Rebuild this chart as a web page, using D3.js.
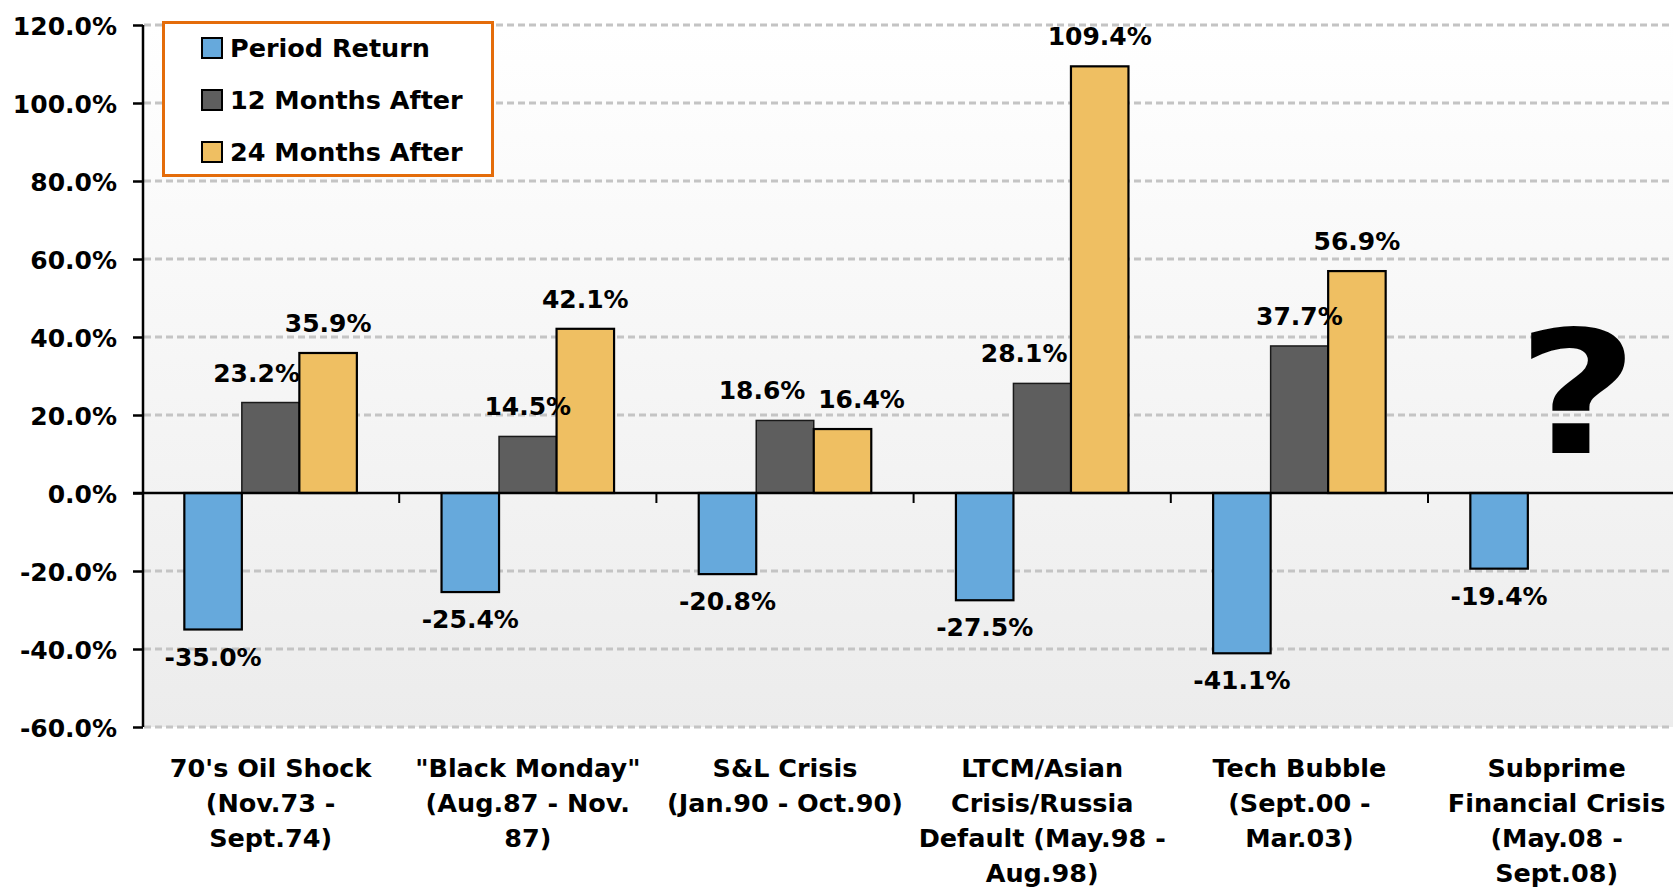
<!DOCTYPE html>
<html>
<head>
<meta charset="utf-8">
<script src="https://cdn.jsdelivr.net/npm/d3@7"></script>
<style>
  html, body { margin: 0; padding: 0; background: #ffffff; }
  svg { display: block; }
  text { font-family: "DejaVu Sans", sans-serif; font-weight: bold; fill: #000; }
</style>
</head>
<body>
<svg id="chart" width="1673" height="887"></svg>
<script>
// Crisis periods, one entry per group, split into the lines shown under the axis
const categories = [
  ["70's Oil Shock", "(Nov.73 -", "Sept.74)"],
  ["\"Black Monday\"", "(Aug.87 - Nov.", "87)"],
  ["S&L Crisis", "(Jan.90 - Oct.90)"],
  ["LTCM/Asian", "Crisis/Russia", "Default (May.98 -", "Aug.98)"],
  ["Tech Bubble", "(Sept.00 -", "Mar.03)"],
  ["Subprime", "Financial Crisis", "(May.08 -", "Sept.08)"]
];

const seriesNames = ["Period Return", "12 Months After", "24 Months After"];

// Returns in percent (null = not yet known)
const periodReturn   = [-35.0, -25.4, -20.8, -27.5, -41.1, -19.4];
const monthsAfter12  = [23.2, 14.5, 18.6, 28.1, 37.7, null];
const monthsAfter24  = [35.9, 42.1, 16.4, 109.4, 56.9, null];

const yTicks = [-60, -40, -20, 0, 20, 40, 60, 80, 100, 120];

const colors = ["#66A9DC", "#5E5E5E", "#EFBF62"];

// percent formatter with a plain hyphen for negatives
const pct = d3.formatLocale({ decimal: ".", thousands: ",", grouping: [3], currency: ["", ""], minus: "-" }).format(".1f");
const fmtPct = v => pct(v) + "%";

// ---- layout ----
const svg = d3.select("#chart");
const W = 1673;
const plotLeft = 142, plotTop = 25, plotBottom = 727;
const step = 257.2;

const seriesValues = [periodReturn, monthsAfter12, monthsAfter24];
const catIdx = categories.map((d, i) => i);

const x0 = d3.scaleBand()
  .domain(catIdx)
  .range([plotLeft, plotLeft + step * categories.length])
  .padding(0);

const x1 = d3.scaleBand()
  .domain(seriesNames)
  .range([0, x0.bandwidth()])
  .paddingInner(0)
  .paddingOuter(0.736);

const y = d3.scaleLinear().domain([-60, 120]).range([plotBottom, plotTop]);

// background gradient of the plot area
const defs = svg.append("defs");
const grad = defs.append("linearGradient")
  .attr("id", "plotBg").attr("x1", 0).attr("y1", 0).attr("x2", 0).attr("y2", 1);
grad.append("stop").attr("offset", "0%").attr("stop-color", "#ffffff");
grad.append("stop").attr("offset", "100%").attr("stop-color", "#ececec");

svg.append("rect")
  .attr("x", plotLeft + 1).attr("y", y(120))
  .attr("width", W - plotLeft).attr("height", y(-60) - y(120))
  .attr("fill", "url(#plotBg)");

// dashed gridlines
svg.append("g")
  .selectAll("line")
  .data(yTicks.filter(t => t !== 0))
  .join("line")
  .attr("x1", plotLeft + 2).attr("x2", W)
  .attr("y1", d => y(d)).attr("y2", d => y(d))
  .attr("stroke", "#c4c4c4")
  .attr("stroke-width", 3)
  .attr("stroke-dasharray", "7 4");

// bars
const barData = [];
categories.forEach((c, i) => {
  seriesNames.forEach((s, j) => {
    const v = seriesValues[j][i];
    if (v !== null && v !== undefined) barData.push({ cat: i, series: s, sIdx: j, value: v });
  });
});

svg.append("g")
  .selectAll("rect")
  .data(barData)
  .join("rect")
  .attr("x", d => x0(d.cat) + x1(d.series))
  .attr("width", x1.bandwidth())
  .attr("y", d => y(Math.max(0, d.value)))
  .attr("height", d => Math.abs(y(d.value) - y(0)))
  .attr("fill", d => colors[d.sIdx])
  .attr("stroke", d => d.sIdx === 1 ? "#1a1a1a" : "#000")
  .attr("stroke-width", d => d.sIdx === 1 ? 1.5 : 2.2);

// zero line and category ticks
svg.append("line")
  .attr("x1", plotLeft - 9).attr("x2", W)
  .attr("y1", y(0)).attr("y2", y(0))
  .attr("stroke", "#000").attr("stroke-width", 2.5);

svg.append("g")
  .selectAll("line")
  .data(catIdx.slice(1))
  .join("line")
  .attr("x1", d => x0(d)).attr("x2", d => x0(d))
  .attr("y1", y(0)).attr("y2", y(0) + 10)
  .attr("stroke", "#000").attr("stroke-width", 2);

// y axis
const yAxis = svg.append("g").attr("transform", `translate(${plotLeft + 1},0)`)
  .call(d3.axisLeft(y).tickValues(yTicks).tickSize(10).tickPadding(16)
    .tickFormat(fmtPct));
yAxis.select(".domain").attr("stroke", "#000").attr("stroke-width", 2.5)
  .attr("d", `M0,${y(120)}V${y(-60)}`);
yAxis.selectAll(".tick line").attr("stroke", "#000").attr("stroke-width", 2.5);
yAxis.selectAll(".tick text")
  .attr("font-size", 25)
  .attr("font-family", "DejaVu Sans")
  .attr("font-weight", "bold")
  .attr("fill", "#000")
  .attr("dy", "0.36em");

// value labels; a few are nudged sideways so neighbours do not collide
const labelShift = { "0-1": -14, "2-1": -23, "2-2": 19, "3-1": -18 };
svg.append("g")
  .selectAll("text")
  .data(barData)
  .join("text")
  .attr("text-anchor", "middle")
  .attr("font-size", 25)
  .attr("x", d => x0(d.cat) + x1(d.series) + x1.bandwidth() / 2 + (labelShift[d.cat + "-" + d.sIdx] || 0))
  .attr("y", d => d.value >= 0 ? y(d.value) - 21 : y(d.value) + 36)
  .text(d => fmtPct(d.value));

// category labels
const catLabels = svg.append("g")
  .selectAll("text")
  .data(categories)
  .join("text")
  .attr("text-anchor", "middle")
  .attr("font-size", 25.5)
  .attr("x", (d, i) => x0(i) + x0.bandwidth() / 2)
  .attr("y", 777);
catLabels.selectAll("tspan")
  .data(d => d)
  .join("tspan")
  .attr("x", function () { return d3.select(this.parentNode).attr("x"); })
  .attr("dy", (d, i) => i === 0 ? 0 : 35)
  .text(d => d);

// big question mark over the unfinished period
const lastCat = categories.length - 1;
svg.append("text")
  .attr("text-anchor", "middle")
  .attr("font-size", 172)
  .attr("transform", `translate(${x0(lastCat) + x0.bandwidth() / 2 + 21},453) scale(1.22,1)`)
  .text("?");

// legend
const legend = svg.append("g");
legend.append("rect")
  .attr("x", 163.5).attr("y", 22.5).attr("width", 329).attr("height", 153)
  .attr("fill", "#ffffff").attr("stroke", "#E46C0A").attr("stroke-width", 3);
const items = legend.selectAll("g.item")
  .data(seriesNames)
  .join("g")
  .attr("class", "item")
  .attr("transform", (d, i) => `translate(202,${48 + i * 52})`);
items.append("rect")
  .attr("x", 0).attr("y", -10).attr("width", 20).attr("height", 20)
  .attr("fill", (d, i) => colors[i]).attr("stroke", "#000").attr("stroke-width", 2);
items.append("text")
  .attr("x", 28).attr("y", 9)
  .attr("font-size", 25.5)
  .text(d => d);
</script>
</body>
</html>
